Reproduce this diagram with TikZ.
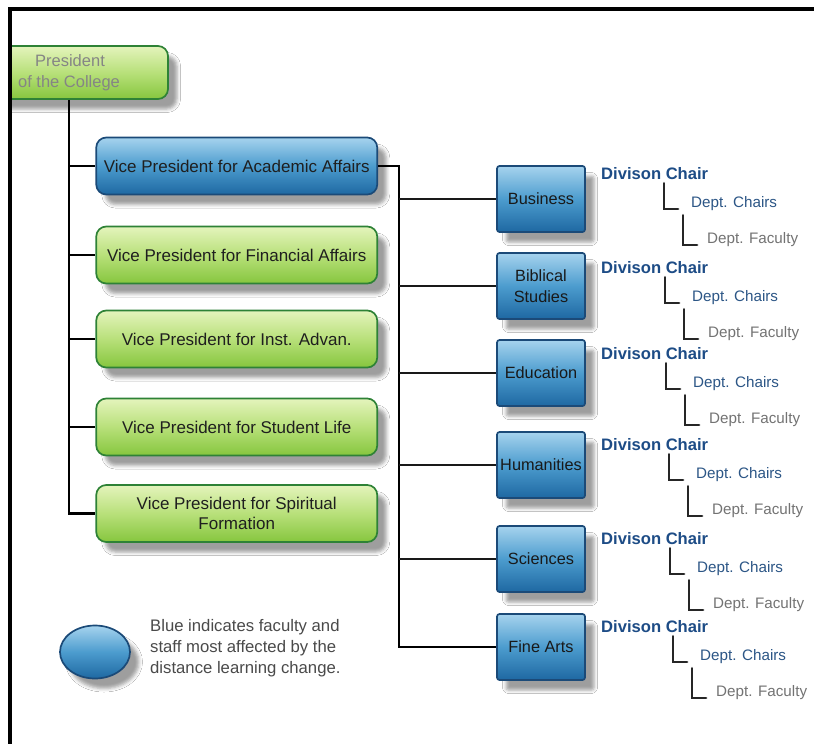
\documentclass[tikz,border=0pt]{standalone}
\usepackage{fontspec}
\setmainfont{Liberation Sans}
\usetikzlibrary{shadows.blur,shapes.geometric}

\definecolor{greentop}{HTML}{E4F4BC}
\definecolor{greenmid}{HTML}{B8E07A}
\definecolor{greenbot}{HTML}{86C63E}
\definecolor{greenedge}{HTML}{2E8236}
\definecolor{bluetop}{HTML}{A6D3EE}
\definecolor{bluemid}{HTML}{4C9CCE}
\definecolor{bluebot}{HTML}{1E68A2}
\definecolor{blueedge}{HTML}{1B4A78}
\definecolor{chairblue}{HTML}{1D4C86}
\definecolor{deptblue}{HTML}{2C5686}
\definecolor{facgray}{HTML}{737373}
\definecolor{presgray}{HTML}{858585}
\definecolor{legendgray}{HTML}{4A4A4A}

\begin{document}
\begin{tikzpicture}[x=1pt,y=-1pt,
  softshadow/.style={blur shadow={shadow xshift=9pt,shadow yshift=-10pt,
      shadow blur radius=3.5pt,shadow opacity=38}},
  greenbox/.style={draw=greenedge,line width=1.7pt,rounded corners=10pt,
      top color=greentop,bottom color=greenbot,middle color=greenmid,
      inner sep=0pt,align=center,text=black!88,softshadow},
  bluebox/.style={draw=blueedge,line width=1.7pt,
      top color=bluetop,bottom color=bluebot,middle color=bluemid,
      inner sep=0pt,align=center,text=black!90,softshadow},
  vpbox/.style={minimum width=281pt,minimum height=57pt,
      font=\fontsize{17}{20.5}\selectfont},
  divbox/.style={bluebox,rounded corners=2.5pt,minimum width=88pt,
      minimum height=66pt,font=\fontsize{16.3}{20.5}\selectfont},
  chairtext/.style={anchor=west,inner sep=0pt,text=chairblue,
      font=\bfseries\fontsize{16.6}{20}\selectfont},
  depttext/.style={anchor=west,inner sep=0pt,text=deptblue,
      font=\fontsize{15.2}{18}\selectfont},
  factext/.style={anchor=west,inner sep=0pt,text=facgray,
      font=\fontsize{15.2}{18}\selectfont},
  trunk/.style={line width=2.8pt,black},
  branch/.style={line width=2.3pt,black!90},
  elbow/.style={line width=2.7pt,black!85,line cap=round}]

\useasboundingbox (0,0) rectangle (814,744);
\fill[white] (0,0) rectangle (814,744);

\begin{scope}
  \clip (10,10) rectangle (814,744);

  % president, running off the left edge
  \node[greenbox,minimum width=198pt,minimum height=53pt,text=presgray,
        font=\fontsize{16.5}{21}\selectfont] (pres) at (69,72.5)
        {\hspace*{2pt}President\\of the College};

  % vice presidents
  \node[greenbox,vpbox,draw=blueedge,top color=bluetop,bottom color=bluebot,
        middle color=bluemid] (vp1) at (236.75,166) {Vice President for Academic Affairs};
  \node[greenbox,vpbox] (vp2) at (236.75,255) {Vice President for Financial Affairs};
  \node[greenbox,vpbox] (vp3) at (236.75,339) {Vice President for Inst. Advan.};
  \node[greenbox,vpbox] (vp4) at (236.75,427) {Vice President for Student Life};
  \node[greenbox,vpbox] (vp5) at (236.75,513.5) {Vice President for Spiritual\\Formation};

  % trunk from the president down to the vice presidents
  \draw[trunk] (pres.south) |- (vp5.west);
  \foreach \v in {vp1,vp2,vp3,vp4}
    \draw[trunk] (pres.south |- \v.west) -- (\v.west);

  % divisions under academic affairs
  \node[divbox] (dv1) at (541,199) {Business};
  \node[divbox] (dv2) at (541,286) {Biblical\\Studies};
  \node[divbox] (dv3) at (541,373) {Education};
  \node[divbox] (dv4) at (541,465) {Humanities};
  \node[divbox] (dv5) at (541,559) {Sciences};
  \node[divbox] (dv6) at (541,647) {Fine Arts};

  \coordinate (bus) at (399,166);
  \draw[trunk] (vp1.east) -- (bus) |- (dv6.west);
  \foreach \d in {dv1,dv2,dv3,dv4,dv5}
    \draw[branch] (bus |- \d.west) -- (\d.west);

  % chair / department lines beside each division
  \foreach \i/\yd/\dx in {1/174/0,2/268/1,3/354/2,4/445/5,5/539/6,6/627/9}{
    \node[chairtext] (dc\i) at (601,\yd) {Divison Chair};
    \node[depttext] (ch\i) at (691+\dx,\yd+30) {Dept. Chairs};
    \node[factext] (fc\i) at (707+\dx,\yd+66) {Dept. Faculty};
    \draw[elbow] ([xshift=63pt+\dx pt,yshift=-3pt]dc\i.south west)
        |- ([xshift=-13pt,yshift=-5pt]ch\i.west);
    \draw[elbow] ([xshift=-8pt,yshift=-4pt]ch\i.south west)
        |- ([xshift=-10pt,yshift=-5pt]fc\i.west);
  }

  % legend
  \node[draw=blueedge,line width=1.7pt,ellipse,minimum width=70pt,
        minimum height=53pt,inner sep=0pt,top color=bluetop,
        bottom color=bluebot,middle color=bluemid,softshadow] (key) at (95,652) {};
  \node[anchor=west,align=left,inner sep=0pt,text=legendgray,
        font=\fontsize{16.7}{21}\selectfont] (keytext) at (150,648)
        {Blue indicates faculty and\\staff most affected by the\\distance learning change.};
\end{scope}

% frame
\draw[line width=4pt,black] (9.5,744) -- (9.5,9) -- (814,9);
\end{tikzpicture}
\end{document}
